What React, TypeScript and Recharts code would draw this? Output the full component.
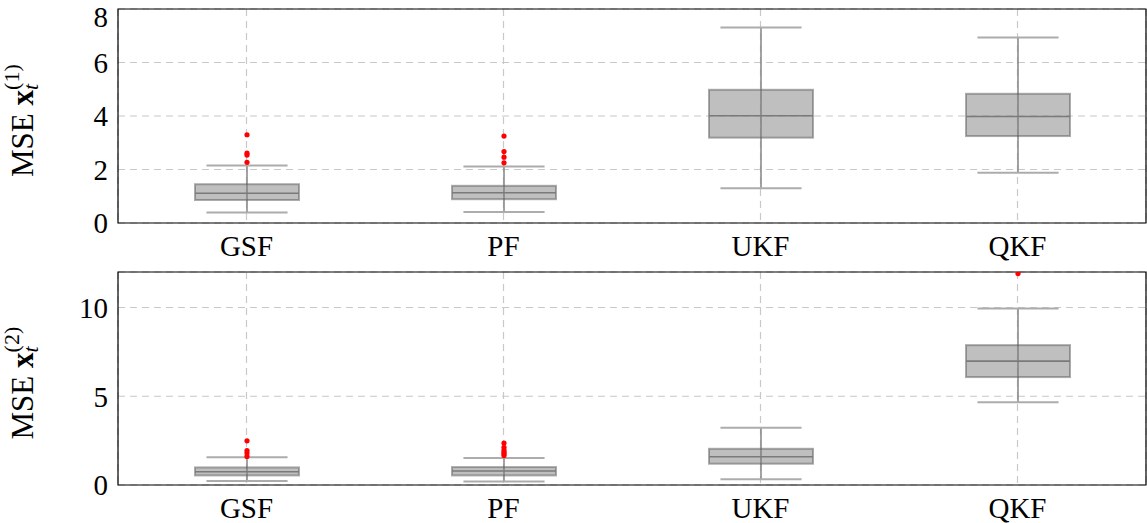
import React from 'react';
import { ComposedChart, Bar, XAxis, YAxis, CartesianGrid, ReferenceArea } from 'recharts';

const categories = ['GSF', 'PF', 'UKF', 'QKF'];

// Panel 1: MSE x_t^(1)
const x1WhiskerLow = [0.39, 0.41, 1.3, 1.88];
const x1Q1 = [0.86, 0.89, 3.19, 3.25];
const x1Median = [1.11, 1.13, 4.01, 3.98];
const x1Q3 = [1.45, 1.39, 4.98, 4.83];
const x1WhiskerHigh = [2.15, 2.11, 7.31, 6.93];
const x1Outliers = [[3.3, 2.61, 2.54, 2.27], [3.25, 2.67, 2.46, 2.25], [], []];
const x1Ticks = [0, 2, 4, 6, 8];

// Panel 2: MSE x_t^(2)
const x2WhiskerLow = [0.22, 0.2, 0.32, 4.66];
const x2Q1 = [0.54, 0.54, 1.2, 6.08];
const x2Median = [0.75, 0.79, 1.59, 6.98];
const x2Q3 = [0.99, 1.01, 2.04, 7.88];
const x2WhiskerHigh = [1.57, 1.52, 3.22, 9.94];
const x2Outliers = [[2.49, 1.94, 1.8, 1.61], [2.36, 2.12, 1.97, 1.85, 1.75, 1.66], [], [11.91]];
const x2Ticks = [0, 5, 10];

const FONT = 'Liberation Serif, DejaVu Serif, serif';
const FS = 29;

function buildRows(lo: number[], q1: number[], med: number[], q3: number[], hi: number[], out: number[][]) {
  return categories.map((name, i) => ({
    name,
    range: [lo[i], hi[i]],
    whiskerLow: lo[i],
    q1: q1[i],
    median: med[i],
    q3: q3[i],
    whiskerHigh: hi[i],
    outliers: out[i],
  }));
}

const rows1 = buildRows(x1WhiskerLow, x1Q1, x1Median, x1Q3, x1WhiskerHigh, x1Outliers);
const rows2 = buildRows(x2WhiskerLow, x2Q1, x2Median, x2Q3, x2WhiskerHigh, x2Outliers);

const BoxShape = (props: any) => {
  const { x, y, width, height, payload } = props;
  if (x == null || y == null || !payload) return null;
  const top = Math.min(y, y + height);
  const bottom = Math.max(y, y + height);
  const lo = payload.whiskerLow;
  const hi = payload.whiskerHigh;
  const toPx = (v: number) => bottom - ((v - lo) * (bottom - top)) / (hi - lo);
  const cx = x + width / 2;
  const capHalf = width * 0.39;
  const yQ1 = toPx(payload.q1);
  const yQ3 = toPx(payload.q3);
  const yMed = toPx(payload.median);
  return (
    <g>
      <line x1={cx} x2={cx} y1={top} y2={bottom} stroke="#8c8c8c" strokeWidth={1.6} />
      <line x1={cx - capHalf} x2={cx + capHalf} y1={top} y2={top} stroke="#acacac" strokeWidth={2} />
      <line x1={cx - capHalf} x2={cx + capHalf} y1={bottom} y2={bottom} stroke="#acacac" strokeWidth={2} />
      <rect
        x={x}
        y={yQ3}
        width={width}
        height={yQ1 - yQ3}
        fill="rgba(128,128,128,0.5)"
        stroke="rgba(90,90,90,0.5)"
        strokeWidth={2}
      />
      <line x1={x} x2={x + width} y1={yMed} y2={yMed} stroke="#7a7a7a" strokeWidth={1.6} />
      {payload.outliers.map((v: number, k: number) => (
        <circle key={k} cx={cx} cy={toPx(v)} r={2.6} fill="#ff0000" />
      ))}
    </g>
  );
};

const AxisLabel = ({ cy, which }: { cy: number; which: string }) => (
  <text
    transform={`translate(33, ${cy}) rotate(-90)`}
    fontFamily={FONT}
    fontSize={31}
    fill="#000"
    textAnchor="start"
    x={-61}
    y={0}
  >
    <tspan>MSE </tspan>
    <tspan fontWeight="bold">x</tspan>
    <tspan fontStyle="italic" fontSize={22} dy={5}>t</tspan>
    <tspan fontSize={22} dx={-6} dy={-19}>{`(${which})`}</tspan>
  </text>
);

function Panel({ rows, ticks, max, height, top, xAxisHeight, which }: any) {
  const plotTop = top;
  const plotBottom = height - xAxisHeight;
  return (
    <ComposedChart
      width={1147}
      height={height}
      data={rows}
      margin={{ top, right: 1, bottom: 0, left: 0 }}
      barCategoryGap={0}
    >
      <CartesianGrid stroke="#c8c8c8" strokeDasharray="7 5" strokeWidth={1.2} />
      <XAxis
        dataKey="name"
        type="category"
        height={xAxisHeight}
        tickLine={false}
        axisLine={false}
        tickSize={0}
        tickMargin={12}
        tick={{ fontFamily: FONT, fontSize: FS, fill: '#000' }}
        interval={0}
      />
      <YAxis
        type="number"
        width={118}
        domain={[0, max]}
        ticks={ticks}
        allowDataOverflow
        tickLine={false}
        axisLine={false}
        tickSize={0}
        tickMargin={10}
        tick={{ fontFamily: FONT, fontSize: FS, fill: '#000' }}
        label={{ content: () => <AxisLabel cy={(plotTop + plotBottom) / 2} which={which} /> }}
      />
      <Bar dataKey="range" barSize={104} shape={<BoxShape />} isAnimationActive={false} />
      <ReferenceArea y1={0} y2={max} fill="none" stroke="#000" strokeWidth={1.2} ifOverflow="visible" />
    </ComposedChart>
  );
}

export default function App() {
  return (
    <div style={{ position: 'absolute', left: 0, top: 0, width: 1147, height: 523, background: '#fff' }}>
      <div style={{ position: 'absolute', left: 0, top: 0 }}>
        <Panel rows={rows1} ticks={x1Ticks} max={8} height={270} top={9} xAxisHeight={47} which="1" />
      </div>
      <div style={{ position: 'absolute', left: 0, top: 260 }}>
        <Panel rows={rows2} ticks={x2Ticks} max={12} height={263} top={12} xAxisHeight={38} which="2" />
      </div>
    </div>
  );
}
